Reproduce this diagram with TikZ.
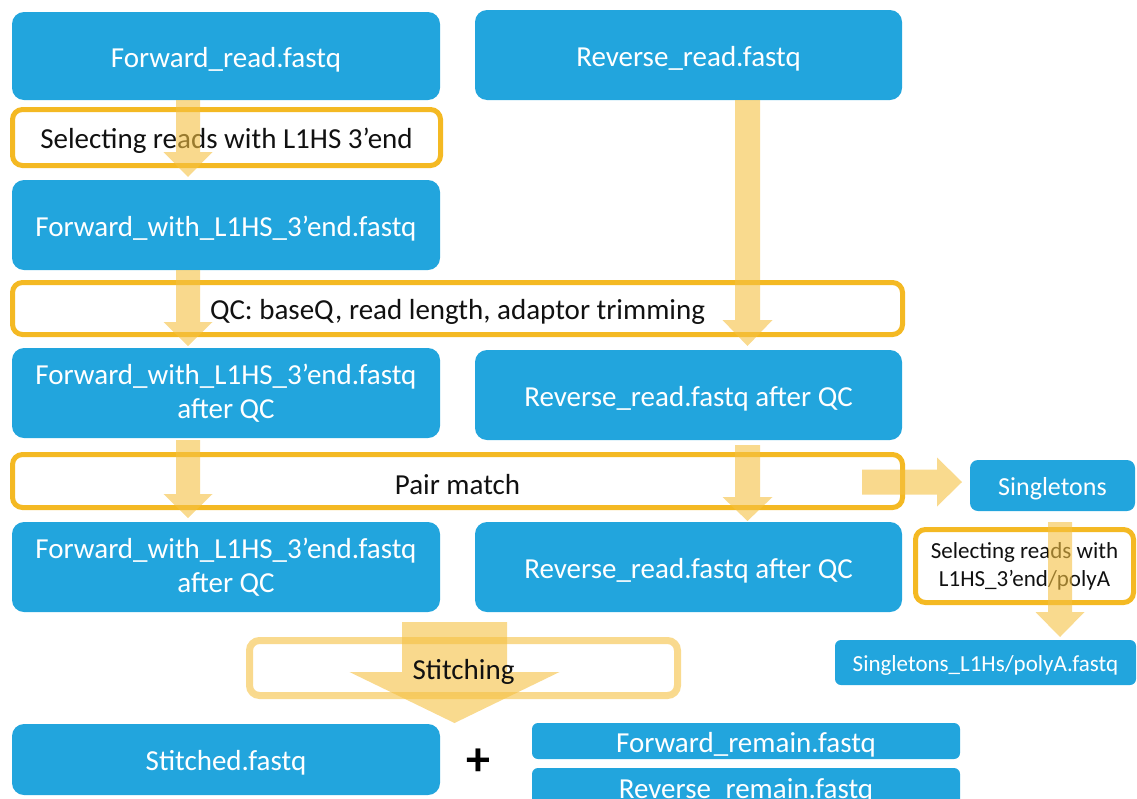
\documentclass[tikz,border=0pt]{standalone}
\usepackage{fontspec}
\setmainfont{Carlito}
\definecolor{bl}{HTML}{22A5DD}
\definecolor{orb}{HTML}{F4B923}
\definecolor{arc}{HTML}{F5C142}
\definecolor{tx}{HTML}{111111}
\tikzset{
  bbox/.style={fill=bl,rounded corners=12pt,text=white,align=center,inner sep=0pt,font=\fontsize{29}{34}\selectfont,execute at begin node=\rule{0pt}{0.93em}},
  obox/.style={draw=orb,line width=5pt,fill=white,rounded corners=10pt,text=tx,align=center,inner sep=0pt,font=\fontsize{29}{34}\selectfont,execute at begin node=\rule{0pt}{0.93em}},
  arr/.style={fill=arc,fill opacity=0.6},
}
\newcommand\vblk[6]{\fill[arr] (#1-#5,#2) -- (#1+#5,#2) -- (#1+#5,#3) -- (#1+#6,#3) -- (#1,#4) -- (#1-#6,#3) -- (#1-#5,#3) -- cycle;}
\newcommand\hblk[6]{\fill[arr] (#2,#1-#5) -- (#2,#1+#5) -- (#3,#1+#5) -- (#3,#1+#6) -- (#4,#1) -- (#3,#1-#6) -- (#3,#1-#5) -- cycle;}
\begin{document}
\begin{tikzpicture}[x=1pt,y=-1pt]
\useasboundingbox (0,0) rectangle (1137,798);
% blue boxes
\node[bbox,minimum width=428pt,minimum height=88pt] (fr) at (226,56) {Forward\_read.fastq};
\node[bbox,minimum width=427pt,minimum height=90pt] (rr) at (688.5,55) {Reverse\_read.fastq};
\node[bbox,minimum width=428pt,minimum height=90pt] (fw) at (226,225) {Forward\_with\_L1HS\_3’end.fastq};
\node[bbox,minimum width=428pt,minimum height=90pt] (fwqc) at (226,393) {Forward\_with\_L1HS\_3’end.fastq\\after QC};
\node[bbox,minimum width=427pt,minimum height=90pt] (rrqc) at (688.5,395) {Reverse\_read.fastq after QC};
\node[bbox,minimum width=165pt,minimum height=51pt,rounded corners=8pt,font=\fontsize{26}{31}\selectfont] (sg) at (1052.5,485.5) {Singletons};
\node[bbox,minimum width=428pt,minimum height=90pt] (fwqc2) at (226,567) {Forward\_with\_L1HS\_3’end.fastq\\after QC};
\node[bbox,minimum width=427pt,minimum height=90pt] (rrqc2) at (688.5,567) {Reverse\_read.fastq after QC};
\node[bbox,minimum width=301pt,minimum height=45pt,rounded corners=6pt,font=\fontsize{23}{28}\selectfont] (sgl) at (985.5,662.5) {Singletons\_L1Hs/polyA.fastq};
\node[bbox,minimum width=428pt,minimum height=71pt] (stf) at (226,759.5) {Stitched.fastq};
\node[bbox,minimum width=428pt,minimum height=36pt,rounded corners=6pt] (frm) at (746,741) {Forward\_remain.fastq};
\node[bbox,minimum width=428pt,minimum height=38pt,rounded corners=6pt] (rrm) at (746,787) {Reverse\_remain.fastq};
\node[text=black,inner sep=0pt,font=\fontsize{48}{48}\selectfont\bfseries] (plus) at (478,762) {+};
% orange boxes
\node[obox,minimum width=428pt,minimum height=56pt] (sel) at (226.5,137.5) {Selecting reads with L1HS 3’end};
\node[obox,minimum width=890pt,minimum height=52pt] (qc) at (457.5,308.5) {QC: baseQ, read length, adaptor trimming};
\node[obox,minimum width=890pt,minimum height=53pt] (pm) at (457.5,481) {Pair match};
\node[obox,minimum width=218pt,minimum height=73pt,font=\fontsize{23}{28}\selectfont] (sel2) at (1024.5,566) {Selecting reads with\\L1HS\_3’end/polyA};
\node[draw=arc,draw opacity=0.6,line width=7pt,rounded corners=10pt,fill=white,minimum width=428pt,minimum height=55pt] (st) at (463.5,668) {};
% block arrows
\vblk{188}{100}{152}{177}{12}{24.5}
\vblk{188}{270}{322}{346}{12}{24.5}
\vblk{747.5}{100}{320}{346}{12.5}{25}
\vblk{188}{440}{494}{518}{12}{24.5}
\vblk{747.5}{445}{497}{521}{12.5}{25}
\hblk{482}{862}{937}{962}{12.5}{24.5}
\vblk{1060}{522}{612}{637}{12}{24.5}
\vblk{454.5}{622}{672}{723}{52.5}{105}
\node[text=tx,inner sep=0pt,font=\fontsize{29}{34}\selectfont,execute at begin node=\rule{0pt}{0.93em}] (stt) at (st.center) {Stitching};
\end{tikzpicture}
\end{document}
